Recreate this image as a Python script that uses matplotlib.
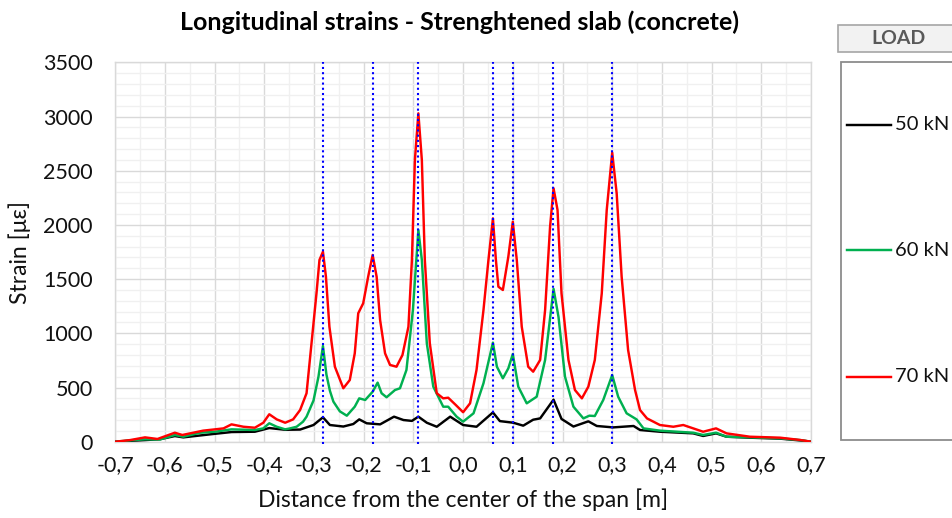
import numpy as np
import matplotlib
matplotlib.use("Agg")
import matplotlib.pyplot as plt
from matplotlib.patches import Rectangle
from matplotlib.ticker import MultipleLocator, FixedLocator

plt.rcParams['font.family'] = ['Lato', 'DejaVu Sans']

# ---------------- data ----------------
series_names = ["50 kN", "60 kN", "70 kN"]
series_colors = ["#000000", "#00b050", "#ff0000"]

x_50 = [-0.700, -0.670, -0.640, -0.610, -0.580, -0.563, -0.503, -0.466, -0.419, -0.390,
        -0.358, -0.328, -0.301, -0.282, -0.268, -0.241, -0.221, -0.209, -0.194, -0.167,
        -0.139, -0.120, -0.103, -0.090, -0.073, -0.053, -0.026, 0.000, 0.027, 0.060,
        0.074, 0.101, 0.121, 0.141, 0.155, 0.182, 0.198, 0.222, 0.252, 0.269,
        0.302, 0.343, 0.356, 0.396, 0.463, 0.483, 0.509, 0.530, 0.577, 0.638,
        0.678, 0.700]
y_50 = [0, 8, 15, 23, 52, 40, 71, 89, 92, 126,
        110, 112, 154, 225, 154, 140, 163, 206, 170, 160,
        231, 200, 192, 231, 175, 138, 231, 154, 138, 270,
        190, 175, 148, 203, 215, 388, 210, 140, 188, 145,
        132, 145, 108, 92, 77, 53, 77, 46, 37, 28,
        12, 0]

x_60 = [-0.700, -0.670, -0.640, -0.610, -0.580, -0.563, -0.529, -0.499, -0.466, -0.419,
        -0.402, -0.390, -0.375, -0.358, -0.348, -0.335, -0.322, -0.315, -0.301, -0.291,
        -0.282, -0.275, -0.268, -0.261, -0.248, -0.234, -0.218, -0.209, -0.197, -0.182,
        -0.172, -0.164, -0.154, -0.137, -0.127, -0.114, -0.101, -0.090, -0.083, -0.073,
        -0.060, -0.040, -0.030, -0.013, 0.000, 0.021, 0.041, 0.060, 0.068, 0.080,
        0.091, 0.100, 0.111, 0.128, 0.148, 0.165, 0.182, 0.192, 0.205, 0.222,
        0.242, 0.254, 0.265, 0.282, 0.300, 0.312, 0.329, 0.349, 0.363, 0.396,
        0.463, 0.483, 0.509, 0.530, 0.577, 0.638, 0.678, 0.700]
y_60 = [0, 12, 22, 20, 62, 46, 83, 92, 114, 108,
        123, 170, 138, 114, 123, 138, 185, 231, 380, 600,
        883, 620, 470, 370, 280, 240, 323, 400, 385, 461,
        545, 447, 410, 477, 493, 662, 1215, 1953, 1677, 908,
        508, 323, 323, 231, 185, 262, 539, 914, 692, 585,
        677, 809, 508, 354, 415, 754, 1410, 1150, 600, 323,
        215, 240, 237, 385, 615, 415, 262, 206, 123, 102,
        83, 62, 83, 46, 40, 31, 15, 0]

x_70 = [-0.700, -0.670, -0.640, -0.615, -0.580, -0.565, -0.523, -0.499, -0.482, -0.466,
        -0.442, -0.419, -0.402, -0.390, -0.375, -0.358, -0.342, -0.328, -0.315, -0.305,
        -0.295, -0.289, -0.282, -0.276, -0.269, -0.258, -0.241, -0.228, -0.218, -0.211,
        -0.201, -0.191, -0.182, -0.174, -0.167, -0.157, -0.147, -0.134, -0.122, -0.110,
        -0.103, -0.097, -0.090, -0.083, -0.077, -0.067, -0.053, -0.040, -0.030, -0.015,
        0.000, 0.014, 0.027, 0.041, 0.051, 0.060, 0.066, 0.071, 0.080, 0.091,
        0.100, 0.108, 0.118, 0.131, 0.141, 0.155, 0.165, 0.175, 0.182, 0.190,
        0.198, 0.212, 0.225, 0.239, 0.252, 0.265, 0.279, 0.289, 0.300, 0.309,
        0.319, 0.332, 0.346, 0.356, 0.370, 0.396, 0.423, 0.443, 0.483, 0.509,
        0.530, 0.577, 0.638, 0.678, 0.700]
y_70 = [0, 15, 40, 25, 83, 62, 102, 114, 123, 160,
        138, 129, 175, 253, 206, 175, 206, 292, 447, 908,
        1369, 1677, 1753, 1523, 1061, 692, 493, 569, 815, 1185,
        1277, 1523, 1723, 1523, 1123, 815, 708, 692, 800, 1061,
        1677, 2599, 3030, 2599, 1677, 908, 447, 400, 406, 340,
        272, 354, 662, 1215, 1677, 2061, 1677, 1430, 1400, 1707,
        2030, 1677, 1061, 692, 646, 754, 1215, 1984, 2338, 2138,
        1369, 754, 477, 400, 508, 754, 1369, 2138, 2667, 2292,
        1523, 846, 477, 292, 215, 154, 138, 154, 92, 123,
        77, 46, 37, 16, 0]

crack_positions = [-0.282, -0.181, -0.090, 0.061, 0.100, 0.181, 0.300]

x_ticks = [-0.7, -0.6, -0.5, -0.4, -0.3, -0.2, -0.1, 0.0, 0.1, 0.2, 0.3, 0.4, 0.5, 0.6, 0.7]
x_tick_labels = ["-0,7", "-0,6", "-0,5", "-0,4", "-0,3", "-0,2", "-0,1", "0,0",
                 "0,1", "0,2", "0,3", "0,4", "0,5", "0,6", "0,7"]
y_ticks = [0, 500, 1000, 1500, 2000, 2500, 3000, 3500]

title = "Longitudinal strains - Strenghtened slab (concrete)"
xlabel = "Distance from the center of the span [m]"
ylabel = "Strain [\u03bc\u03b5]"
legend_title = "LOAD"

# ---------------- figure ----------------
W, H = 953, 518
fig = plt.figure(figsize=(W / 100, H / 100), dpi=100)
ax = fig.add_axes([115.2 / W, 1 - 441.7 / H, (811 - 115.2) / W, (441.7 - 62.4) / H])

ax.set_xlim(-0.7, 0.7)
ax.set_ylim(0, 3500)

ax.xaxis.set_major_locator(FixedLocator(x_ticks))
ax.set_xticklabels(x_tick_labels)
ax.xaxis.set_minor_locator(MultipleLocator(0.05))
ax.yaxis.set_major_locator(FixedLocator(y_ticks))
ax.yaxis.set_minor_locator(MultipleLocator(100))

ax.grid(which='major', color='#d9d9d9', lw=1.0, zorder=0)
ax.grid(which='minor', color='#f0f0f0', lw=1.0, zorder=0)
ax.set_axisbelow(True)
for s in ax.spines.values():
    s.set_color('#d9d9d9')
    s.set_linewidth(1.0)

ax.tick_params(which='both', length=0)
ax.tick_params(axis='y', pad=16, labelsize=15.5, labelcolor='#111111')
ax.tick_params(axis='x', pad=10, labelsize=15.5, labelcolor='#111111')

for xs, ys, c in zip([x_50, x_60, x_70], [y_50, y_60, y_70], series_colors):
    ax.plot(xs, ys, color=c, lw=1.75, zorder=3, solid_joinstyle='round')

for xc in crack_positions:
    ax.axvline(xc, color='#0000ff', lw=1.5, ls=(0, (1, 1.5)), zorder=4, clip_on=False,
               ymin=-0.005, ymax=1.0)

ax.set_xlabel(xlabel, fontsize=16.5, labelpad=9, color='#111111')
ax.set_ylabel(ylabel, fontsize=16.5, labelpad=9, color='#111111')
fig.text(460 / W, 1 - 22 / H, title, fontsize=18, fontweight='bold', ha='center', va='center')

# ---------------- legend (custom, Excel-like) ----------------
ov = fig.add_axes([0, 0, 1, 1], zorder=10)
ov.set_xlim(0, W)
ov.set_ylim(H, 0)
ov.axis('off')
ov.patch.set_alpha(0)

ov.add_patch(Rectangle((838.5, 24.5), 130, 27, facecolor='#f2f2f2', edgecolor='#a6a6a6', lw=1.2))
ov.text(899, 39, legend_title, fontsize=14, fontweight='bold', color='#595959', ha='center', va='center')
ov.add_patch(Rectangle((840.7, 61.7), 130, 378.5, facecolor='white', edgecolor='#8c8c8c', lw=1.3))
for name, c, yy in zip(series_names, series_colors, [125, 250, 377]):
    ov.plot([847, 891], [yy, yy], color=c, lw=1.75)
    ov.text(895, yy, name, fontsize=14.5, ha='left', va='center', color='#111111')

fig.savefig('out.png', dpi=100)
